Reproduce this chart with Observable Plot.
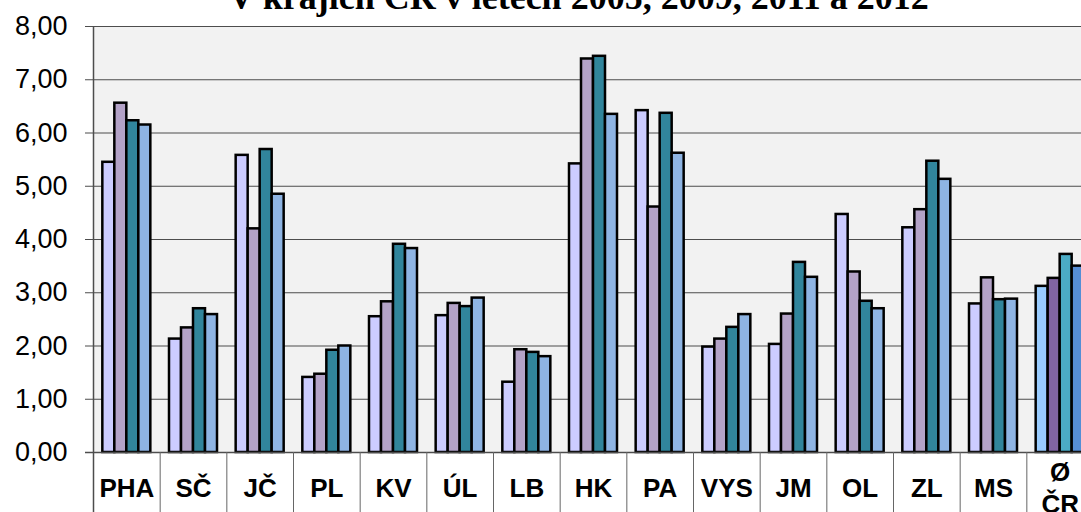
<!DOCTYPE html>
<html>
<head>
<meta charset="utf-8">
<script src="https://cdn.jsdelivr.net/npm/d3@7"></script>
<script src="https://cdn.jsdelivr.net/npm/@observablehq/plot@0.6"></script>
<style>
  html, body { margin: 0; padding: 0; background: #fff; width: 1081px; height: 512px; overflow: hidden; }
  #wrap { position: relative; width: 1081px; height: 512px; overflow: hidden; }
  #title { position: absolute; left: 0; top: -21px; width: 1157px; text-align: center;
           font-family: "Liberation Serif", "Times New Roman", serif; font-weight: bold;
           font-size: 36px; line-height: 36px; color: #000; white-space: nowrap; z-index: 2; }
  #chart { position: absolute; left: 0; top: 0; width: 1100px; }
  #chart svg { max-width: none !important; }
</style>
</head>
<body>
<div id="wrap">
  <div id="chart"></div>
  <div id="title">V krajích ČR v letech 2005, 2009, 2011 a 2012</div>
</div>
<script>
const categories = ["PHA", "SČ", "JČ", "PL", "KV", "ÚL", "LB", "HK", "PA", "VYS", "JM", "OL", "ZL", "MS", "Ø\nČR"];
const years = ["2005", "2009", "2011", "2012"];
const v2005 = [5.45, 2.13, 5.58, 1.41, 2.55, 2.57, 1.32, 5.42, 6.42, 1.98, 2.03, 4.47, 4.22, 2.79, 3.12];
const v2009 = [6.56, 2.34, 4.20, 1.47, 2.83, 2.80, 1.93, 7.39, 4.61, 2.13, 2.60, 3.39, 4.56, 3.28, 3.27];
const v2011 = [6.23, 2.70, 5.69, 1.92, 3.91, 2.74, 1.88, 7.44, 6.37, 2.35, 3.57, 2.84, 5.47, 2.87, 3.72];
const v2012 = [6.15, 2.59, 4.85, 2.00, 3.83, 2.90, 1.80, 6.35, 5.62, 2.59, 3.29, 2.70, 5.13, 2.88, 3.50];
const yTicks = [0, 1, 2, 3, 4, 5, 6, 7, 8];

const seriesValues = [v2005, v2009, v2011, v2012];
const colors = ["#CCCCFF", "#B3A2C7", "#31859C", "#8EB4E3"];
const colorsCR = ["#99CCFF", "#8064A2", "#4BACC6", "#558ED5"];

const marginLeft = 93, marginRight = 7, width = 1100;
const bandW = (width - marginLeft - marginRight) / categories.length;
const barW = 12;
const groupOffset = (bandW - barW * years.length) / 2;

const barMarks = years.map((yr, i) => {
  const rows = categories.map((c, j) => ({cat: c, year: yr, value: seriesValues[i][j], last: j === categories.length - 1}));
  const insetLeft = groupOffset + barW * i;
  const insetRight = bandW - insetLeft - barW;
  return Plot.barY(rows, {
    x: "cat", y: "value",
    fill: d => d.last ? colorsCR[i] : colors[i],
    stroke: "#000", strokeWidth: 2.5,
    insetLeft, insetRight
  });
});

const chart = Plot.plot({
  width, height: 512,
  marginLeft, marginRight, marginTop: 26, marginBottom: 60,
  style: {fontFamily: "'Liberation Sans', Arial, sans-serif", background: "transparent", overflow: "visible", maxWidth: "none"},
  x: {domain: categories, padding: 0, round: false, axis: null},
  y: {domain: [0, 8], axis: null},
  marks: [
    Plot.frame({fill: "#F2F2F2", stroke: null}),
    Plot.ruleY(yTicks.slice(1), {stroke: "#4d4d4d", strokeWidth: 1.2, insetLeft: -8}),
    Plot.axisY(yTicks, {label: null, tickSize: 0, tickPadding: 26, fontSize: 27, tickFormat: d => d.toFixed(2).replace(".", ","), color: "#000"}),
    ...barMarks,
    Plot.ruleY([0], {stroke: "#4d4d4d", strokeWidth: 1.5, insetLeft: -8}),
    Plot.ruleX(categories, {x: d => d, dx: -bandW / 2, stroke: "#666", strokeWidth: 1, insetTop: 426, insetBottom: -60}),
    Plot.ruleX(categories.slice(0, 1), {x: d => d, dx: -bandW / 2, stroke: "#4d4d4d", strokeWidth: 1.5, insetBottom: -60}),
    Plot.text(categories, {x: d => d, frameAnchor: "bottom", dy: 34, lineAnchor: "middle", lineHeight: 1.25,
      text: d => d, fontWeight: "bold", fontSize: 26, fill: "#000"})
  ]
});
document.getElementById("chart").appendChild(chart);
</script>
</body>
</html>
